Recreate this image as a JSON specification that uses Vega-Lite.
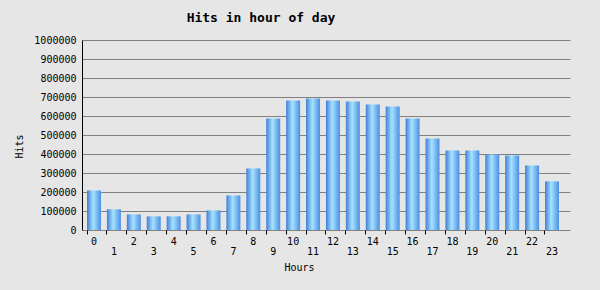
{
  "$schema": "https://vega.github.io/schema/vega-lite/v6.json",
  "width": 488,
  "height": 190,
  "autosize": {"type": "none"},
  "padding": {"left": 82, "top": 40, "right": 30, "bottom": 60},
  "background": "#e6e6e6",
  "title": {"text": "Hits in hour of day", "font": "DejaVu Sans Mono", "fontSize": 13, "fontWeight": "bold", "color": "#000000", "anchor": "middle", "dx": -65, "offset": 0, "baseline": "alphabetic"},
  "config": {"view": {"stroke": null}},
  "data": {"values": [
    {"hour": 0, "hits": 208000},
    {"hour": 1, "hits": 109000},
    {"hour": 2, "hits": 82000},
    {"hour": 3, "hits": 72000},
    {"hour": 4, "hits": 72000},
    {"hour": 5, "hits": 82000},
    {"hour": 6, "hits": 103000},
    {"hour": 7, "hits": 182000},
    {"hour": 8, "hits": 324000},
    {"hour": 9, "hits": 587000},
    {"hour": 10, "hits": 681000},
    {"hour": 11, "hits": 692000},
    {"hour": 12, "hits": 681000},
    {"hour": 13, "hits": 676000},
    {"hour": 14, "hits": 660000},
    {"hour": 15, "hits": 650000},
    {"hour": 16, "hits": 587000},
    {"hour": 17, "hits": 482000},
    {"hour": 18, "hits": 419000},
    {"hour": 19, "hits": 419000},
    {"hour": 20, "hits": 398000},
    {"hour": 21, "hits": 392000},
    {"hour": 22, "hits": 340000},
    {"hour": 23, "hits": 256000}
  ]},
  "mark": {
    "type": "bar",
    "color": {
      "gradient": "linear", "x1": 0, "y1": 0, "x2": 1, "y2": 0,
      "stops": [
        {"offset": 0, "color": "#3f7fd6"},
        {"offset": 0.45, "color": "#a6e2ff"},
        {"offset": 1, "color": "#4b8fe2"}
      ]
    }
  },
  "encoding": {
    "x": {
      "field": "hour", "type": "ordinal", "sort": null,
      "scale": {"paddingInner": 0.297, "paddingOuter": 0.402, "align": 0.3125, "round": false},
      "axis": {
        "title": "Hours", "titleFont": "DejaVu Sans Mono", "titleFontSize": 10, "titleFontWeight": "normal", "titleColor": "#000000",
        "titleX": 217, "titleY": 40, "titleBaseline": "alphabetic", "titleAlign": "center",
        "labelAngle": 0, "labelFont": "DejaVu Sans Mono", "labelFontSize": 10, "labelColor": "#000000",
        "labelDx": 7, "bandPosition": 0, "tickSize": 4, "tickColor": "#000000", "tickWidth": 1,
        "domain": false, "grid": false, "labelBaseline": "top", "labelAlign": "center", "labelOverlap": false,
        "labelPadding": {"condition": {"test": "datum.value % 2 === 1", "value": 12}, "value": 2}
      }
    },
    "y": {
      "field": "hits", "type": "quantitative",
      "scale": {"domain": [0, 1000000], "nice": false},
      "axis": {
        "title": "Hits", "titleFont": "DejaVu Sans Mono", "titleFontSize": 10, "titleFontWeight": "normal", "titleColor": "#000000",
        "titleAngle": -90, "titleX": -60, "titleY": 106, "titleBaseline": "alphabetic", "titleAlign": "center",
        "values": [0, 100000, 200000, 300000, 400000, 500000, 600000, 700000, 800000, 900000, 1000000],
        "format": "d", "labelFont": "DejaVu Sans Mono", "labelFontSize": 10, "labelColor": "#000000",
        "ticks": false, "tickSize": 0, "labelPadding": 6,
        "domainColor": "#000000", "domainWidth": 1,
        "grid": true, "gridColor": "#808080", "gridOpacity": 1, "gridWidth": 1
      }
    }
  }
}
